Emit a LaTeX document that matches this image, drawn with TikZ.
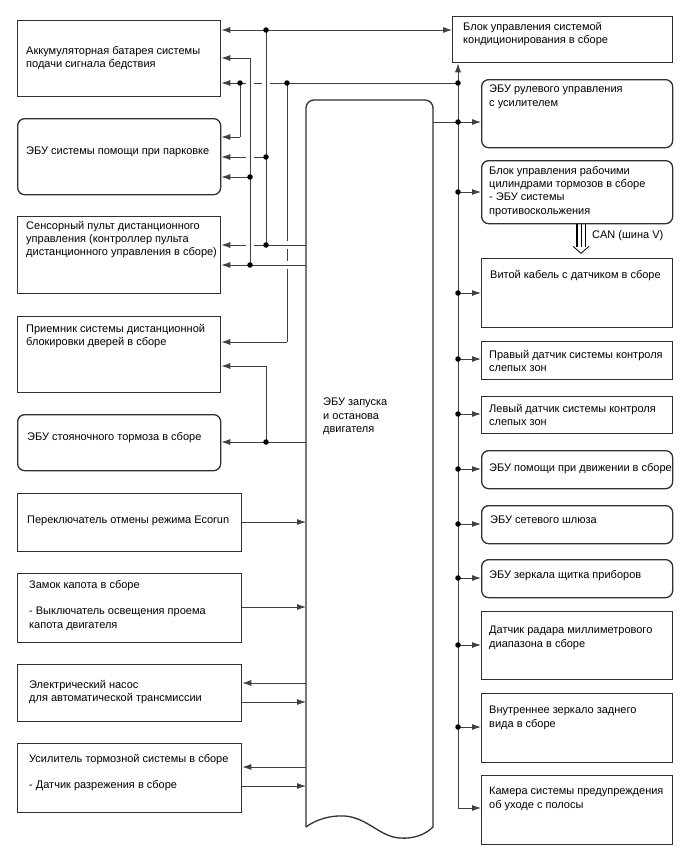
\documentclass[tikz,border=0pt]{standalone}
\usepackage{fontspec}
\setmainfont{Liberation Sans}
\usetikzlibrary{arrows.meta,calc}
\definecolor{ln}{HTML}{303030}
\definecolor{cn}{HTML}{404040}
\begin{document}
\begin{tikzpicture}[x=1pt,y=-1pt,
  box/.style={draw=ln, line width=1.3pt, fill=white, inner sep=0, anchor=north west},
  rbox/.style={box, rounded corners=7pt},
  txt/.style={font=\fontsize{11}{13.3}\selectfont, align=left, inner sep=0, anchor=north west, text=black},
  con/.style={draw=cn, line width=0.85pt},
  arr/.style={con, -{Latex[length=9pt,width=6pt]}},
  darr/.style={con, {Latex[length=9pt,width=6pt]}-{Latex[length=9pt,width=6pt]}},
  jdot/.style={circle, fill=black, inner sep=0, minimum size=5.5pt},
]
\useasboundingbox (0,0) rectangle (688,852);

% ---------- left boxes ----------
\node[box,  minimum width=203pt, minimum height=76pt] (L1) at (17,20) {};
\node[rbox, minimum width=203pt, minimum height=76pt] (L2) at (17,118) {};
\node[box,  minimum width=203pt, minimum height=77pt] (L3) at (17,216) {};
\node[box,  minimum width=203pt, minimum height=76pt] (L4) at (17,316) {};
\node[rbox, minimum width=203pt, minimum height=56pt] (L5) at (17,414) {};
\node[box,  minimum width=224pt, minimum height=58pt] (L6) at (17,493) {};
\node[box,  minimum width=224pt, minimum height=69pt] (L7) at (17,573) {};
\node[box,  minimum width=224pt, minimum height=57pt] (L8) at (17,664) {};
\node[box,  minimum width=224pt, minimum height=69pt] (L9) at (17,743) {};

\node[txt] (tL1) at (26,46)  {Аккумуляторная батарея системы\\подачи сигнала бедствия};
\node[txt] (tL2) at (26,147) {ЭБУ системы помощи при парковке};
\node[txt] (tL3) at (26,221) {Сенсорный пульт дистанционного\\управления (контроллер пульта\\дистанционного управления в сборе)};
\node[txt] (tL4) at (26,324) {Приемник системы дистанционной\\блокировки дверей в сборе};
\node[txt] (tL5) at (27,432) {ЭБУ стояночного тормоза в сборе};
\node[txt] (tL6) at (27,516) {Переключатель отмены режима Ecorun};
\node[txt] (tL7) at (29,580) {Замок капота в сборе\\[13.3pt]- Выключатель освещения проема\\капота двигателя};
\node[txt] (tL8) at (29,680) {Электрический насос\\для автоматической трансмиссии};
\node[txt] (tL9) at (29,754) {Усилитель тормозной системы в сборе\\[13.3pt]- Датчик разрежения в сборе};

% ---------- right boxes ----------
\node[box,  minimum width=220pt, minimum height=46pt] (R0) at (452,16) {};
\node[rbox, minimum width=191pt, minimum height=68pt] (R1) at (481,79) {};
\node[rbox, minimum width=191pt, minimum height=63pt] (R2) at (481,160) {};
\node[box,  minimum width=191pt, minimum height=69pt] (R3) at (481,258) {};
\node[box,  minimum width=191pt, minimum height=38pt] (R4) at (481,341) {};
\node[box,  minimum width=191pt, minimum height=37pt] (R5) at (481,396) {};
\node[rbox, minimum width=191pt, minimum height=38pt] (R6) at (481,450) {};
\node[rbox, minimum width=191pt, minimum height=38pt] (R7) at (481,505) {};
\node[rbox, minimum width=191pt, minimum height=38pt] (R8) at (481,559) {};
\node[box,  minimum width=191pt, minimum height=68pt] (R9) at (481,611) {};
\node[box,  minimum width=191pt, minimum height=69pt] (R10) at (481,693) {};
\node[box,  minimum width=191pt, minimum height=69pt] (R11) at (481,775) {};

\node[txt] (tR0) at (463,22)  {Блок управления системой\\кондиционирования в сборе};
\node[txt] (tR1) at (489,85)  {ЭБУ рулевого управления\\с усилителем};
\node[txt] (tR2) at (489,166) {Блок управления рабочими\\цилиндрами тормозов в сборе\\- ЭБУ системы\\противоскольжения};
\node[txt] (tR3) at (490,270) {Витой кабель с датчиком в сборе};
\node[txt] (tR4) at (489,350) {Правый датчик системы контроля\\слепых зон};
\node[txt] (tR5) at (489,404) {Левый датчик системы контроля\\слепых зон};
\node[txt] (tR6) at (489,463) {ЭБУ помощи при движении в сборе};
\node[txt] (tR7) at (490,516) {ЭБУ сетевого шлюза};
\node[txt] (tR8) at (489,570) {ЭБУ зеркала щитка приборов};
\node[txt] (tR9) at (489,626) {Датчик радара миллиметрового\\диапазона в сборе};
\node[txt] (tR10) at (489,706) {Внутреннее зеркало заднего\\вида в сборе};
\node[txt] (tR11) at (489,787) {Камера системы предупреждения\\об уходе с полосы};

% ---------- central ECU ----------
\node[inner sep=0, minimum width=127pt, minimum height=727pt, anchor=north west] (ECU) at (306,100) {};
\draw[draw=ln, line width=1.3pt, rounded corners=8pt] (306,827) -- (306,100) -- (433,100) -- (433,827);
\draw[draw=ln, line width=1.3pt] (433,827) .. controls (425,835) and (413,839) .. (400,838)
  .. controls (380,837) and (368,818) .. (345,816)
  .. controls (330,815) and (315,820) .. (306,827);
\node[txt] (tECU) at (323,398) {ЭБУ запуска\\и останова\\двигателя};

% ---------- CAN ----------
\coordinate (canA) at (R2.south -| 577,0);
\draw[draw=black, line width=2pt] (canA) -- ++(0,23);
\draw[draw=black, line width=0.7pt] ($(canA)+(4,0)$) -- ++(0,23);
\draw[draw=black, line width=0.7pt] ($(canA)+(8,0)$) -- ++(0,23);
\draw[draw=black, line width=0.8pt] ($(canA)+(-4,22)$) -- ($(canA)+(4,29)$) -- ($(canA)+(12,22)$);
\node[txt] (tCAN) at (592,230) {CAN (шина V)};

% ---------- junction coordinates ----------
\coordinate (j30) at (266,30);
\coordinate (j58) at (250,58);
\coordinate (j83a) at (240,83);
\coordinate (j83b) at (287,83);
\coordinate (j83c) at (458,83);
\coordinate (j137) at (240,137);
\coordinate (j157) at (266,157);
\coordinate (j177) at (250,177);
\coordinate (j245) at (266,245);
\coordinate (j265) at (250,265);
\coordinate (j342) at (287,342);
\coordinate (j366) at (266,366);
\coordinate (j442) at (266,442);
\coordinate (bus) at (458,808);

% top line
\draw[darr] (L1.east |- j30) -- (R0.west |- j30);
% vertical x=266 (upper)
\draw[con] (j30) -- (j245);
% vertical x=250
\draw[con] (j58) -- (j265);
\draw[arr] (j58) -- (L1.east |- j58);
% y=83 line with crossing gaps
\draw[con] (j83c) -- (270,83);
\draw[con] (262,83) -- (254,83);
\draw[arr] (246,83) -- (L1.east |- j83a);
\draw[con] (j83a) -- (j137);
\draw[arr] (j137) -- (L2.east |- j137);
% y=157
\draw[con] (j157) -- (254,157);
\draw[arr] (246,157) -- (L2.east |- j157);
% y=177
\draw[arr] (j177) -- (L2.east |- j177);
% y=245
\draw[con] (ECU.west |- j245) -- (254,245);
\draw[arr] (246,245) -- (L3.east |- j245);
% y=265
\draw[arr] (ECU.west |- j265) -- (L3.east |- j265);
% vertical x=287 with gaps
\draw[con] (j83b) -- (287,241);
\draw[con] (287,249) -- (287,261);
\draw[con] (287,269) -- (j342);
\draw[arr] (j342) -- (L4.east |- j342);
% lower x=266
\draw[con] (j442) -- (j366);
\draw[arr] (j366) -- (L4.east |- j366);
\draw[arr] (ECU.west |- j442) -- (L5.east |- j442);

% lower left
\draw[arr] (L6.east |- 0,522) -- (ECU.west |- 0,522);
\draw[arr] (L7.east |- 0,607) -- (ECU.west |- 0,607);
\draw[arr] (ECU.west |- 0,683) -- (L8.east |- 0,683);
\draw[arr] (L8.east |- 0,702) -- (ECU.west |- 0,702);
\draw[arr] (ECU.west |- 0,767) -- (L9.east |- 0,767);
\draw[arr] (L9.east |- 0,786) -- (ECU.west |- 0,786);

% right bus
\draw[arr] (bus) -- (R0.south -| bus);
\draw[arr] (bus) -- (R11.west |- bus);
\draw[con] (ECU.east |- 0,122) -- (458,122);
\foreach \yy/\rr in {122/R1,192/R2,293/R3,359/R4,414/R5,469/R6,524/R7,578/R8,645/R9,727/R10}{
  \draw[arr] (458,\yy) -- (\rr.west |- 0,\yy);
  \node[jdot] at (458,\yy) {};
}

% dots
\foreach \p in {j30,j83a,j83b,j83c,j157,j177,j245,j265,j442}{\node[jdot] at (\p) {};}
\end{tikzpicture}
\end{document}
